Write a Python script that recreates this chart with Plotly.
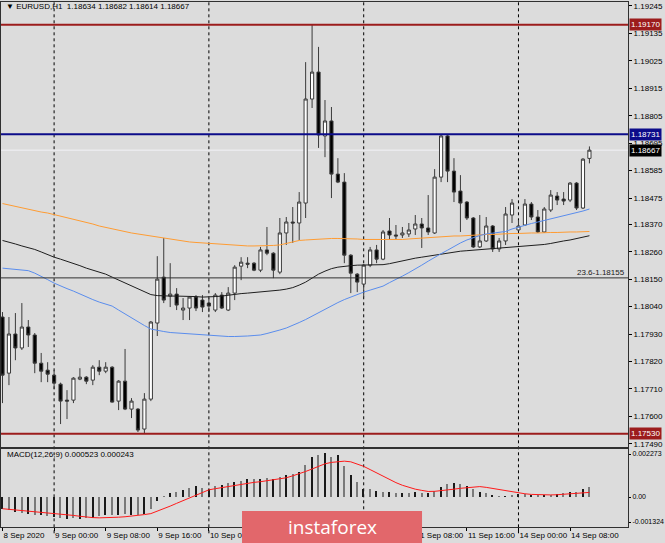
import plotly.graph_objects as go

# ---------------- data ----------------
symbol_header = "EURUSD,H1  1.18634 1.18682 1.18614 1.18667"
macd_header = "MACD(12,26,9) 0.000523 0.000243"

bar_index = list(range(92))  # hourly bars, 8 Sep 16:00 ... 14 Sep 11:00

opens = [1.17998, 1.17773, 1.17930, 1.17874, 1.17958, 1.17926, 1.17813, 1.17785, 1.17765, 1.17729,
         1.17665, 1.17665, 1.17749, 1.17757, 1.17745, 1.17797, 1.17781, 1.17797, 1.17661, 1.17741,
         1.17629, 1.17629, 1.17549, 1.17669, 1.17974, 1.18158, 1.18082, 1.18090, 1.18026, 1.18034,
         1.18078, 1.18066, 1.18054, 1.18026, 1.18086, 1.18026, 1.18094, 1.18202, 1.18214, 1.18214,
         1.18186, 1.18267, 1.18254, 1.18178, 1.18335, 1.18379, 1.18375, 1.18455, 1.18872, 1.18980,
         1.18724, 1.18784, 1.18571, 1.18539, 1.18246, 1.18170, 1.18130, 1.18206, 1.18267, 1.18230,
         1.18343, 1.18327, 1.18327, 1.18331, 1.18351, 1.18371, 1.18355, 1.18335, 1.18559, 1.18724,
         1.18583, 1.18503, 1.18459, 1.18395, 1.18279, 1.18303, 1.18363, 1.18271, 1.18303, 1.18407,
         1.18347, 1.18367, 1.18451, 1.18399, 1.18339, 1.18427, 1.18483, 1.18471, 1.18467, 1.18535,
         1.18435, 1.18634]
highs = [1.18018, 1.17998, 1.18014, 1.18054, 1.17986, 1.17934, 1.17854, 1.17817, 1.17785, 1.17735,
         1.17705, 1.17757, 1.17793, 1.17761, 1.17805, 1.17825, 1.17817, 1.17801, 1.17745, 1.17870,
         1.17673, 1.17633, 1.17693, 1.17982, 1.18242, 1.18315, 1.18214, 1.18114, 1.18074, 1.18082,
         1.18086, 1.18086, 1.18074, 1.18094, 1.18098, 1.18118, 1.18206, 1.18238, 1.18238, 1.18218,
         1.18279, 1.18359, 1.18258, 1.18395, 1.18399, 1.18439, 1.18499, 1.19020, 1.19169, 1.19081,
         1.18868, 1.18840, 1.18635, 1.18575, 1.18250, 1.18174, 1.18210, 1.18279, 1.18287, 1.18347,
         1.18395, 1.18367, 1.18359, 1.18375, 1.18407, 1.18395, 1.18487, 1.18591, 1.18728, 1.18728,
         1.18635, 1.18567, 1.18463, 1.18399, 1.18407, 1.18399, 1.18367, 1.18315, 1.18439, 1.18471,
         1.18387, 1.18471, 1.18459, 1.18427, 1.18439, 1.18507, 1.18499, 1.18499, 1.18539, 1.18539,
         1.18635, 1.18682]
lows = [1.17653, 1.17725, 1.17825, 1.17866, 1.17878, 1.17773, 1.17737, 1.17737, 1.17709, 1.17569,
        1.17589, 1.17653, 1.17745, 1.17729, 1.17725, 1.17765, 1.17773, 1.17655, 1.17625, 1.17625,
        1.17593, 1.17537, 1.17529, 1.17661, 1.17922, 1.18054, 1.18038, 1.18026, 1.17986, 1.17986,
        1.18022, 1.18018, 1.18018, 1.18018, 1.18030, 1.18022, 1.18066, 1.18146, 1.18194, 1.18182,
        1.18178, 1.18246, 1.18154, 1.18170, 1.18287, 1.18295, 1.18307, 1.18395, 1.18836, 1.18676,
        1.18639, 1.18475, 1.18535, 1.18214, 1.18094, 1.18098, 1.18078, 1.18198, 1.18214, 1.18226,
        1.18307, 1.18307, 1.18315, 1.18319, 1.18327, 1.18275, 1.18327, 1.18331, 1.18539, 1.18539,
        1.18459, 1.18339, 1.18387, 1.18275, 1.18275, 1.18299, 1.18259, 1.18259, 1.18287, 1.18375,
        1.18343, 1.18363, 1.18387, 1.18335, 1.18335, 1.18419, 1.18447, 1.18447, 1.18459, 1.18427,
        1.18431, 1.18614]
closes = [1.17765, 1.17930, 1.17874, 1.17958, 1.17926, 1.17813, 1.17781, 1.17769, 1.17733, 1.17661,
          1.17661, 1.17753, 1.17757, 1.17741, 1.17797, 1.17781, 1.17797, 1.17657, 1.17741, 1.17629,
          1.17661, 1.17545, 1.17669, 1.17978, 1.18150, 1.18066, 1.18090, 1.18046, 1.18034, 1.18078,
          1.18034, 1.18038, 1.18042, 1.18086, 1.18034, 1.18094, 1.18198, 1.18218, 1.18210, 1.18186,
          1.18267, 1.18254, 1.18186, 1.18335, 1.18379, 1.18375, 1.18459, 1.18872, 1.18980, 1.18728,
          1.18784, 1.18571, 1.18539, 1.18246, 1.18174, 1.18138, 1.18206, 1.18267, 1.18230, 1.18339,
          1.18327, 1.18323, 1.18335, 1.18347, 1.18371, 1.18355, 1.18339, 1.18559, 1.18724, 1.18583,
          1.18499, 1.18455, 1.18395, 1.18279, 1.18303, 1.18363, 1.18271, 1.18303, 1.18411, 1.18455,
          1.18363, 1.18451, 1.18399, 1.18339, 1.18431, 1.18487, 1.18467, 1.18463, 1.18535, 1.18435,
          1.18631, 1.18667]

ma_orange = [1.18453, 1.18447, 1.18441, 1.18435, 1.18429, 1.18425, 1.18419, 1.18415, 1.18409, 1.18403,
             1.18395, 1.18389, 1.18383, 1.18377, 1.18371, 1.18363, 1.18357, 1.18351, 1.18345, 1.18339,
             1.18335, 1.18331, 1.18327, 1.18323, 1.18317, 1.18313, 1.18309, 1.18305, 1.18303, 1.18299,
             1.18297, 1.18295, 1.18293, 1.18291, 1.18289, 1.18287, 1.18285, 1.18283, 1.18283, 1.18283,
             1.18283, 1.18283, 1.18285, 1.18287, 1.18293, 1.18299, 1.18305, 1.18307, 1.18309, 1.18311,
             1.18311, 1.18313, 1.18313, 1.18313, 1.18311, 1.18311, 1.18309, 1.18309, 1.18307, 1.18307,
             1.18307, 1.18307, 1.18309, 1.18311, 1.18313, 1.18315, 1.18315, 1.18317, 1.18319, 1.18321,
             1.18323, 1.18323, 1.18325, 1.18327, 1.18327, 1.18329, 1.18329, 1.18331, 1.18331, 1.18333,
             1.18333, 1.18335, 1.18335, 1.18335, 1.18337, 1.18337, 1.18337, 1.18339, 1.18339, 1.18339,
             1.18341, 1.18341]
ma_black = [1.18305, 1.18299, 1.18291, 1.18283, 1.18277, 1.18269, 1.18259, 1.18248, 1.18238, 1.18230,
            1.18222, 1.18214, 1.18204, 1.18194, 1.18186, 1.18178, 1.18170, 1.18158, 1.18146, 1.18134,
            1.18122, 1.18110, 1.18098, 1.18088, 1.18084, 1.18082, 1.18082, 1.18082, 1.18082, 1.18080,
            1.18080, 1.18078, 1.18078, 1.18080, 1.18082, 1.18086, 1.18090, 1.18092, 1.18094, 1.18096,
            1.18098, 1.18100, 1.18102, 1.18106, 1.18110, 1.18116, 1.18126, 1.18138, 1.18154, 1.18170,
            1.18182, 1.18192, 1.18198, 1.18202, 1.18204, 1.18206, 1.18206, 1.18206, 1.18206, 1.18208,
            1.18212, 1.18218, 1.18224, 1.18230, 1.18234, 1.18238, 1.18242, 1.18248, 1.18252, 1.18256,
            1.18260, 1.18262, 1.18264, 1.18266, 1.18268, 1.18270, 1.18272, 1.18274, 1.18274, 1.18276,
            1.18278, 1.18280, 1.18283, 1.18287, 1.18289, 1.18293, 1.18299, 1.18303, 1.18307, 1.18313,
            1.18319, 1.18324]
ma_blue = [1.18194, 1.18192, 1.18190, 1.18188, 1.18184, 1.18174, 1.18162, 1.18148, 1.18134, 1.18122,
           1.18112, 1.18102, 1.18090, 1.18078, 1.18068, 1.18058, 1.18050, 1.18042, 1.18026, 1.18010,
           1.17994, 1.17980, 1.17964, 1.17950, 1.17944, 1.17940, 1.17936, 1.17934, 1.17932, 1.17930,
           1.17930, 1.17928, 1.17926, 1.17924, 1.17922, 1.17920, 1.17920, 1.17920, 1.17922, 1.17924,
           1.17926, 1.17932, 1.17938, 1.17946, 1.17954, 1.17964, 1.17976, 1.17988, 1.18002, 1.18016,
           1.18028, 1.18042, 1.18056, 1.18068, 1.18078, 1.18090, 1.18098, 1.18106, 1.18114, 1.18122,
           1.18136, 1.18148, 1.18162, 1.18176, 1.18190, 1.18206, 1.18222, 1.18238, 1.18252, 1.18266,
           1.18281, 1.18295, 1.18307, 1.18317, 1.18325, 1.18331, 1.18335, 1.18337, 1.18341, 1.18351,
           1.18359, 1.18367, 1.18373, 1.18379, 1.18385, 1.18391, 1.18397, 1.18403, 1.18409, 1.18417,
           1.18423, 1.18431]

macd_hist = [-0.000655, -0.000706, -0.000793, -0.000827, -0.000879, -0.000930, -0.000965, -0.000999, -0.001051, -0.001137,
             -0.001172, -0.001137, -0.001172, -0.001137, -0.001103, -0.000999, -0.000930, -0.000930, -0.000930, -0.000896,
             -0.000965, -0.000965, -0.000879, -0.000655, -0.000224, 0.000020, 0.000190, 0.000276, 0.000379, 0.000500,
             0.000586, 0.000500, 0.000414, 0.000586, 0.000620, 0.000724, 0.000793, 0.000844, 0.000930, 0.000930,
             0.000965, 0.001017, 0.000965, 0.001068, 0.001189, 0.001241, 0.001310, 0.001706, 0.002137, 0.002223,
             0.002309, 0.002137, 0.002223, 0.001620, 0.001189, 0.000793, 0.000448, 0.000414, 0.000327, 0.000276,
             0.000241, 0.000207, 0.000207, 0.000207, 0.000241, 0.000207, 0.000207, 0.000327, 0.000534, 0.000672,
             0.000724, 0.000672, 0.000586, 0.000414, 0.000241, 0.000190, 0.000069, 0.000010, 0.000034, 0.000103,
             0.000155, 0.000155, 0.000103, 0.000069, 0.000103, 0.000103, 0.000155, 0.000207, 0.000276, 0.000276,
             0.000414, 0.000523]
macd_signal = [-0.000620, -0.000650, -0.000680, -0.000705, -0.000730, -0.000758, -0.000790, -0.000825, -0.000860, -0.000895,
               -0.000930, -0.000975, -0.001020, -0.001068, -0.001090, -0.001103, -0.001100, -0.001085, -0.001068, -0.001045,
               -0.001017, -0.000975, -0.000930, -0.000879, -0.000758, -0.000620, -0.000482, -0.000335, -0.000190, -0.000040,
               0.000103, 0.000241, 0.000379, 0.000440, 0.000500, 0.000560, 0.000620, 0.000680, 0.000741, 0.000775,
               0.000810, 0.000855, 0.000896, 0.000955, 0.001017, 0.001120, 0.001223, 0.001350, 0.001482, 0.001620,
               0.001757, 0.001830, 0.001878, 0.001895, 0.001861, 0.001757, 0.001620, 0.001450, 0.001275, 0.001085,
               0.000896, 0.000760, 0.000620, 0.000515, 0.000414, 0.000350, 0.000293, 0.000300, 0.000327, 0.000370,
               0.000414, 0.000460, 0.000500, 0.000530, 0.000551, 0.000510, 0.000448, 0.000390, 0.000327, 0.000265,
               0.000207, 0.000170, 0.000138, 0.000120, 0.000103, 0.000110, 0.000121, 0.000145, 0.000172, 0.000205,
               0.000235, 0.000243]

time_tick_index = [0, 8, 16, 24, 32, 40, 48, 56, 64, 72, 80, 88]
time_tick_labels = ["8 Sep 2020", "9 Sep 00:00", "9 Sep 08:00", "9 Sep 16:00", "10 Sep 00:00", "10 Sep 08:00",
                    "10 Sep 16:00", "11 Sep 00:00", "11 Sep 08:00", "11 Sep 16:00", "14 Sep 00:00", "14 Sep 08:00"]
day_start_index = [8, 32, 56, 80]

price_ticks = [1.19245, 1.19135, 1.19025, 1.18915, 1.18805, 1.18695, 1.18585, 1.18475, 1.18370,
               1.18260, 1.18150, 1.18040, 1.17930, 1.17820, 1.17710, 1.17600, 1.17490]
macd_ticks = [0.002273, 0.0, -0.001324]
macd_tick_labels = ["0.002273", "0.00", "-0.001324"]

resistance_level = 1.19170
support_level = 1.17530
blue_level = 1.18731
fib_level = 1.18155
fib_label = "23.6-1.18155"
last_price = 1.18667

# ---------------- figure ----------------
BG = "#dcdcdc"
FONT = "Liberation Sans"

fig = go.Figure()

fig.add_trace(go.Candlestick(
    x=bar_index, open=opens, high=highs, low=lows, close=closes,
    xaxis="x", yaxis="y",
    increasing=dict(fillcolor="#ffffff", line=dict(color="#3a3a3a", width=1)),
    decreasing=dict(fillcolor="#000000", line=dict(color="#3a3a3a", width=1)),
    whiskerwidth=0, showlegend=False, hoverinfo="skip"))

for series, color in [(ma_orange, "#ff9c33"), (ma_black, "#1e1e1e"), (ma_blue, "#5a8ded")]:
    fig.add_trace(go.Scatter(x=bar_index, y=series, mode="lines", xaxis="x", yaxis="y",
                             line=dict(color=color, width=1), showlegend=False, hoverinfo="skip"))

hist_colors = ["#1a1a1a" if i % 2 == 0 else "#7a7a7a" for i in bar_index]
fig.add_trace(go.Bar(x=bar_index, y=macd_hist, xaxis="x2", yaxis="y2", width=0.22,
                     marker=dict(color=hist_colors, line=dict(width=0)),
                     showlegend=False, hoverinfo="skip"))
fig.add_trace(go.Scatter(x=bar_index, y=macd_signal, mode="lines", xaxis="x2", yaxis="y2",
                         line=dict(color="#ff1a1a", width=1), showlegend=False, hoverinfo="skip"))

xr = [-0.2326, 96.98]
main_dom = [0.15238, 1.0]
macd_dom = [0.0, 0.14857]

shapes = []
for d in day_start_index:
    shapes.append(dict(type="line", xref="x", yref="paper", x0=d, x1=d, y0=-0.012, y1=1,
                       line=dict(color="#000000", width=1, dash="dot"), layer="below"))
shapes.append(dict(type="line", xref="paper", yref="y", x0=0, x1=1, y0=last_price, y1=last_price,
                   line=dict(color="#f2f2f6", width=1), layer="below"))
for lvl, col, w in [(resistance_level, "#9c1c1c", 2), (support_level, "#9c1c1c", 2),
                    (blue_level, "#0c0c8a", 2), (fib_level, "#303030", 1)]:
    shapes.append(dict(type="line", xref="paper", yref="y", x0=0, x1=1, y0=lvl, y1=lvl,
                       line=dict(color=col, width=w), layer="above"))
# watermark box
shapes.append(dict(type="rect", xref="paper", yref="paper", x0=0.3844, x1=0.6715, y0=-0.0305, y1=0.0305,
                   fillcolor="#e2676b", line=dict(width=0), layer="above"))

annotations = [
    dict(xref="paper", yref="paper", x=0.004, y=0.9905, xanchor="left", yanchor="middle", showarrow=False,
         text="\u25bc " + symbol_header, font=dict(size=8, color="#000000", family=FONT)),
    dict(xref="paper", yref="paper", x=0.006, y=0.1375, xanchor="left", yanchor="middle", showarrow=False,
         text=macd_header, font=dict(size=8, color="#000000", family=FONT)),
    dict(xref="paper", yref="y", x=0.998, y=fib_level, xanchor="right", yanchor="bottom", showarrow=False,
         text=fib_label, font=dict(size=8, color="#202020", family=FONT), yshift=-1),
    dict(xref="paper", yref="paper", x=0.528, y=0.0, xanchor="center", yanchor="middle", showarrow=False,
         text="instaforex", font=dict(size=19, color="#ffffff", family="Open Sans")),
]
for lvl, col in [(resistance_level, "#9c1c1c"), (blue_level, "#0c0c8a"),
                 (last_price, "#000000"), (support_level, "#9c1c1c")]:
    annotations.append(dict(xref="paper", yref="y", x=1.0, y=lvl, xanchor="left", yanchor="middle",
                            xshift=1, showarrow=False, text=f"{lvl:.5f}", bgcolor=col, borderpad=1,
                            font=dict(size=8, color="#ffffff", family=FONT)))

common_axis = dict(showgrid=False, zeroline=False, showline=True, mirror=True,
                   linecolor="#303030", linewidth=1, automargin=False)

fig.update_layout(
    width=665, height=543,
    margin=dict(l=1, r=37, t=2, b=16, autoexpand=False),
    paper_bgcolor=BG, plot_bgcolor=BG,
    font=dict(family=FONT, size=8, color="#000000"),
    showlegend=False, bargap=0,
    xaxis=dict(domain=[0, 1], range=xr, anchor="y", showticklabels=False, ticks="",
               rangeslider=dict(visible=False), **common_axis),
    yaxis=dict(domain=main_dom, range=[1.17477, 1.19261], side="right", anchor="x",
               tickvals=price_ticks, ticktext=[f"{v:.5f}" for v in price_ticks],
               ticks="outside", ticklen=3, tickcolor="#000000",
               tickfont=dict(size=8, family=FONT), **common_axis),
    xaxis2=dict(domain=[0, 1], range=xr, anchor="y2", tickvals=time_tick_index, ticktext=time_tick_labels,
                ticks="outside", ticklen=3, tickcolor="#000000", ticklabelposition="outside right",
                tickangle=0, tickfont=dict(size=8, family=FONT),
                rangeslider=dict(visible=False), **common_axis),
    yaxis2=dict(domain=macd_dom, range=[-0.001587, 0.002539], side="right", anchor="x2",
                tickvals=macd_ticks, ticktext=macd_tick_labels,
                ticks="outside", ticklen=2, tickcolor="#000000",
                tickfont=dict(size=7, family=FONT), **common_axis),
    shapes=shapes, annotations=annotations,
)

fig.write_html("out.html", config={"displayModeBar": False},
               post_script="document.body.style.margin='0';document.body.style.overflow='hidden';"
                           "document.body.style.background='" + BG + "';")
